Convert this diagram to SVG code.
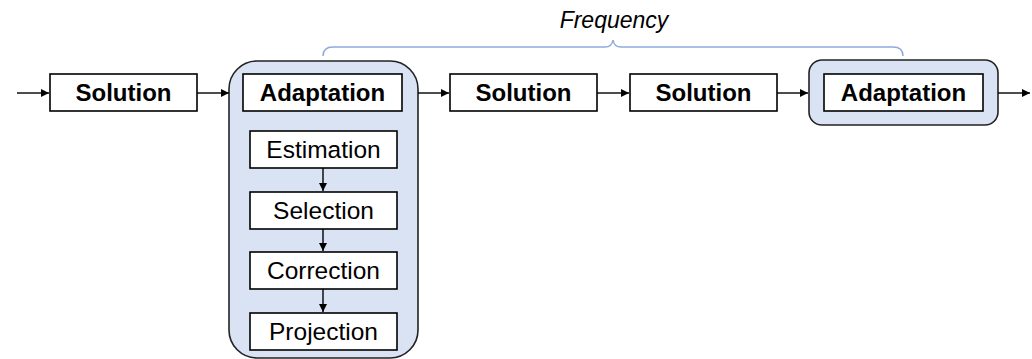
<svg xmlns="http://www.w3.org/2000/svg" width="1032" height="359" viewBox="0 0 1032 359">
  <defs>
    <marker id="arr" viewBox="0 0 10 10" refX="10" refY="5" markerWidth="8" markerHeight="8" markerUnits="userSpaceOnUse" orient="auto">
      <path d="M0,0 L10,5 L0,10 z" fill="#000"/>
    </marker>
    <style>
      .box { fill: #fff; stroke: #000; stroke-width: 1.6; }
      .cont { fill: #dae3f3; stroke: #222; stroke-width: 1.6; }
      .bold { font-family: "Liberation Sans", Arial, sans-serif; font-weight: bold; font-size: 24px; text-anchor: middle; fill: #000; }
      .reg { font-family: "Liberation Sans", Arial, sans-serif; font-size: 24.5px; text-anchor: middle; fill: #000; }
      .conn { stroke: #000; stroke-width: 1.4; fill: none; marker-end: url(#arr); }
    </style>
  </defs>
  <rect width="1032" height="359" fill="#fff"/>

  <g id="brace">
    <path d="M323,56 Q323,47 333,47 L605,47 Q612,47 613,40 Q614,47 621,47 L893,47 Q903,47 903,56" fill="none" stroke="#8faadc" stroke-width="1.5"/>
    <text x="614" y="28" font-family="Liberation Sans, Arial, sans-serif" font-style="italic" font-size="23" text-anchor="middle" fill="#000">Frequency</text>
  </g>

  <g id="solution1">
    <rect class="box" x="50" y="74" width="147" height="37"/>
    <text class="bold" x="123.5" y="101">Solution</text>
  </g>

  <g id="adaptation1">
    <rect class="cont" x="229" y="61" width="189" height="297" rx="28" ry="28"/>
    <rect class="box" x="243" y="74" width="159" height="37"/>
    <text class="bold" x="322.5" y="101">Adaptation</text>
  </g>

  <g id="estimation">
    <rect class="box" x="250" y="131" width="147" height="37"/>
    <text class="reg" x="323.5" y="158">Estimation</text>
  </g>
  <g id="selection">
    <rect class="box" x="250" y="192" width="147" height="37"/>
    <text class="reg" x="323.5" y="219">Selection</text>
  </g>
  <g id="correction">
    <rect class="box" x="250" y="252" width="147" height="37"/>
    <text class="reg" x="323.5" y="279">Correction</text>
  </g>
  <g id="projection">
    <rect class="box" x="250" y="313" width="147" height="37"/>
    <text class="reg" x="323.5" y="340">Projection</text>
  </g>

  <g id="solution2">
    <rect class="box" x="450" y="74" width="147" height="37"/>
    <text class="bold" x="523.5" y="101">Solution</text>
  </g>

  <g id="solution3">
    <rect class="box" x="630" y="74" width="147" height="37"/>
    <text class="bold" x="703.5" y="101">Solution</text>
  </g>

  <g id="adaptation2">
    <rect class="cont" x="809" y="60" width="189" height="65" rx="13" ry="13"/>
    <rect class="box" x="824" y="74" width="159" height="37"/>
    <text class="bold" x="903.5" y="101">Adaptation</text>
  </g>

  <g id="connectors">
    <line class="conn" x1="17" y1="93" x2="49" y2="93"/>
    <line class="conn" x1="197" y1="93" x2="229" y2="93"/>
    <line class="conn" x1="418" y1="93" x2="449" y2="93"/>
    <line class="conn" x1="597" y1="93" x2="629" y2="93"/>
    <line class="conn" x1="777" y1="93" x2="808" y2="93"/>
    <line class="conn" x1="998" y1="93" x2="1030" y2="93"/>
    <line class="conn" x1="323" y1="168" x2="323" y2="191"/>
    <line class="conn" x1="323" y1="229" x2="323" y2="251"/>
    <line class="conn" x1="323" y1="289" x2="323" y2="312"/>
  </g>
</svg>
